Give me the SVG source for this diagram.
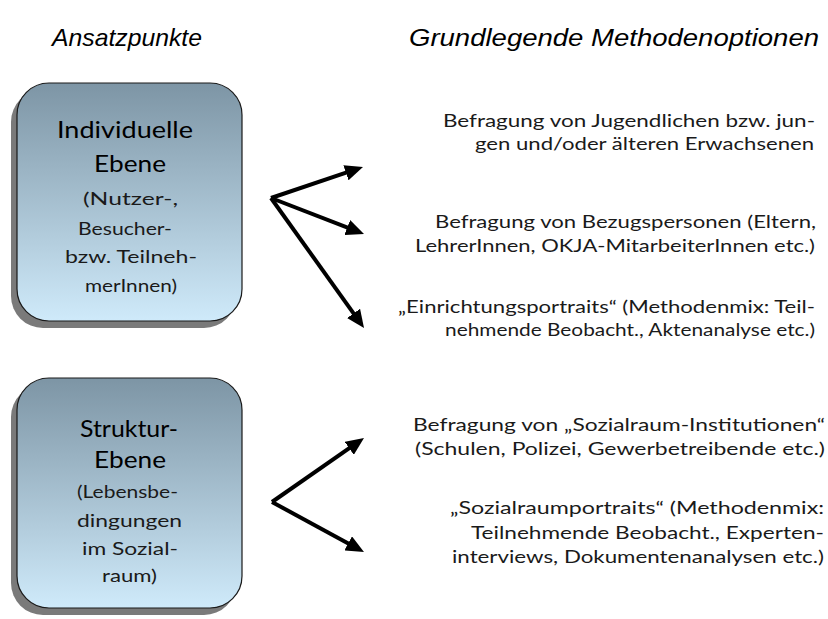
<svg xmlns="http://www.w3.org/2000/svg" width="828" height="619" viewBox="0 0 828 619">
<defs>
<linearGradient id="boxg" x1="0" y1="0" x2="0" y2="1">
<stop offset="0" stop-color="#7d95a5"/>
<stop offset="1" stop-color="#cfeafa"/>
</linearGradient>
<marker id="ah" markerUnits="userSpaceOnUse" markerWidth="20" markerHeight="16" refX="8" refY="8" orient="auto">
<path d="M0,0 L18,8 L0,16 z" fill="#000"/>
</marker>
<style>
.title{font-family:"Liberation Sans",Arial,sans-serif;font-style:italic;font-size:24px;fill:#000}
.h{font-family:Lato,"Liberation Sans",sans-serif;font-size:24px;fill:#000}
.s{font-family:Lato,"Liberation Sans",sans-serif;font-size:18px;fill:#1a1a1a}
.r{font-family:Lato,"Liberation Sans",sans-serif;font-size:17px;fill:#1a1a1a;text-anchor:end}
.shadow{fill:#7a7a7a}
.box{fill:url(#boxg);stroke:#1a1a1a;stroke-width:1.2}
.arr{stroke:#000;stroke-width:4;fill:none;marker-end:url(#ah)}
</style>
</defs>
<text class="title" x="52" y="46" textLength="150" lengthAdjust="spacingAndGlyphs">Ansatzpunkte</text>
<text class="title" x="409" y="46" textLength="410" lengthAdjust="spacingAndGlyphs">Grundlegende Methodenoptionen</text>

<g id="node-individuell">
<rect class="shadow" x="11" y="90" width="225" height="238" rx="32"/>
<rect class="box" x="17" y="83" width="225" height="238" rx="32"/>
<text class="h" x="57" y="138" textLength="136" lengthAdjust="spacingAndGlyphs">Individuelle</text>
<text class="h" x="94" y="172" textLength="72" lengthAdjust="spacingAndGlyphs">Ebene</text>
<text class="s" x="83" y="205" textLength="95" lengthAdjust="spacingAndGlyphs">(Nutzer-,</text>
<text class="s" x="78" y="235" textLength="94" lengthAdjust="spacingAndGlyphs">Besucher-</text>
<text class="s" x="65" y="263" textLength="132" lengthAdjust="spacingAndGlyphs">bzw. Teilneh-</text>
<text class="s" x="85" y="292" textLength="92" lengthAdjust="spacingAndGlyphs">merInnen)</text>
</g>

<g id="node-struktur">
<rect class="shadow" x="11" y="385" width="225" height="230" rx="32"/>
<rect class="box" x="17" y="378" width="225" height="230" rx="32"/>
<text class="h" x="80" y="437" textLength="98" lengthAdjust="spacingAndGlyphs">Struktur-</text>
<text class="h" x="94" y="468" textLength="72" lengthAdjust="spacingAndGlyphs">Ebene</text>
<text class="s" x="77" y="498" textLength="101" lengthAdjust="spacingAndGlyphs">(Lebensbe-</text>
<text class="s" x="77" y="527" textLength="105" lengthAdjust="spacingAndGlyphs">dingungen</text>
<text class="s" x="82" y="555" textLength="96" lengthAdjust="spacingAndGlyphs">im Sozial-</text>
<text class="s" x="102" y="582" textLength="55" lengthAdjust="spacingAndGlyphs">raum)</text>
</g>

<g id="connectors">
<line class="arr" x1="271" y1="198" x2="353.5" y2="170.2"/>
<line class="arr" x1="271" y1="198" x2="354.7" y2="230.4"/>
<line class="arr" x1="271" y1="198" x2="358.2" y2="319.9"/>
<line class="arr" x1="272" y1="502" x2="355.8" y2="443.7"/>
<line class="arr" x1="272" y1="502" x2="355.2" y2="547.2"/>
</g>

<g id="node-m1">
<text class="r" x="815" y="127" textLength="372" lengthAdjust="spacingAndGlyphs">Befragung von Jugendlichen bzw. jun-</text>
<text class="r" x="814" y="150" textLength="339" lengthAdjust="spacingAndGlyphs">gen und/oder älteren Erwachsenen</text>
</g>
<g id="node-m2">
<text class="r" x="816" y="228" textLength="381" lengthAdjust="spacingAndGlyphs">Befragung von Bezugspersonen (Eltern,</text>
<text class="r" x="815" y="252" textLength="400" lengthAdjust="spacingAndGlyphs">LehrerInnen, OKJA-MitarbeiterInnen etc.)</text>
</g>
<g id="node-m3">
<text class="r" x="815" y="313" textLength="417" lengthAdjust="spacingAndGlyphs">„Einrichtungsportraits“ (Methodenmix: Teil-</text>
<text class="r" x="815" y="336" textLength="370" lengthAdjust="spacingAndGlyphs">nehmende Beobacht., Aktenanalyse etc.)</text>
</g>
<g id="node-m4">
<text class="r" x="825" y="431" textLength="412" lengthAdjust="spacingAndGlyphs">Befragung von „Sozialraum-Institutionen“</text>
<text class="r" x="825" y="455" textLength="410" lengthAdjust="spacingAndGlyphs">(Schulen, Polizei, Gewerbetreibende etc.)</text>
</g>
<g id="node-m5">
<text class="r" x="824" y="514" textLength="374" lengthAdjust="spacingAndGlyphs">„Sozialraumportraits“ (Methodenmix:</text>
<text class="r" x="824" y="539" textLength="353" lengthAdjust="spacingAndGlyphs">Teilnehmende Beobacht., Experten-</text>
<text class="r" x="824" y="563" textLength="372" lengthAdjust="spacingAndGlyphs">interviews, Dokumentenanalysen etc.)</text>
</g>
</svg>
